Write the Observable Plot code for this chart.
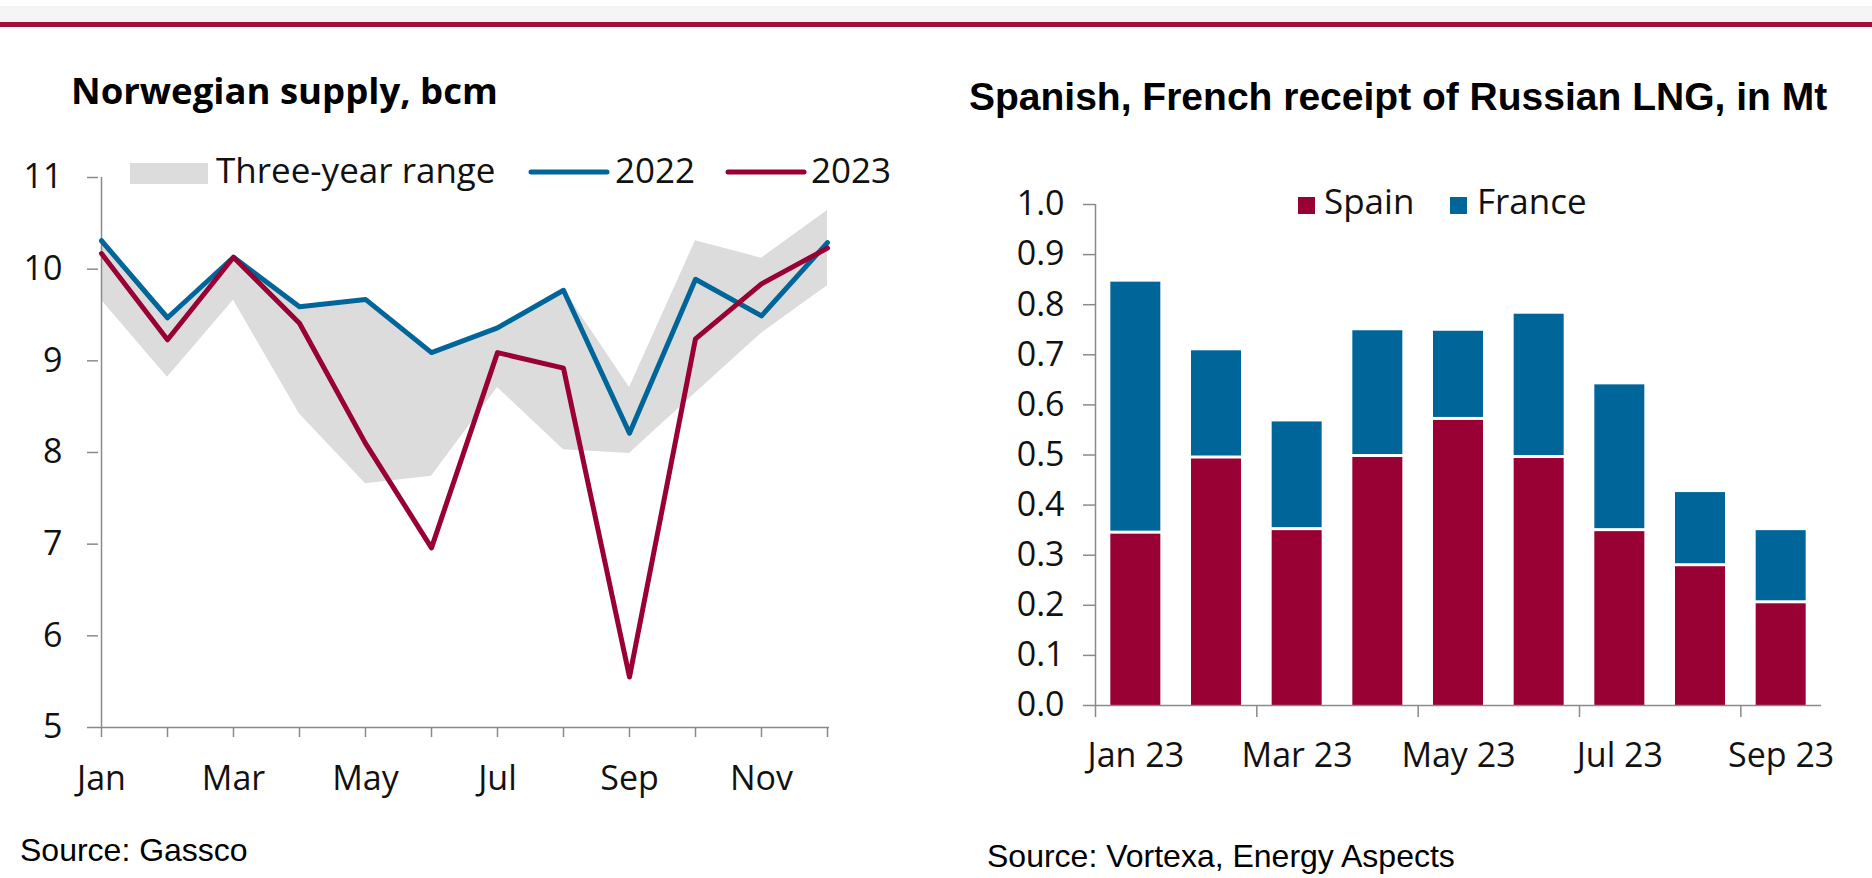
<!DOCTYPE html>
<html>
<head>
<meta charset="utf-8">
<script src="https://cdn.jsdelivr.net/npm/d3@7"></script>
<script src="https://cdn.jsdelivr.net/npm/@observablehq/plot@0.6"></script>
<style>
  html, body { margin: 0; padding: 0; background: #fff; }
  #wrap { position: relative; width: 1872px; height: 878px; overflow: hidden; background: #fff; }
  #wrap > svg, #wrap > figure { position: absolute; top: 0; margin: 0; }
</style>
</head>
<body>
<div id="wrap"></div>
<script>
// ---------- Data: Norwegian supply, bcm ----------
const months = ["Jan","Feb","Mar","Apr","May","Jun","Jul","Aug","Sep","Oct","Nov","Dec"];
const xLabelsLeft = ["Jan","Mar","May","Jul","Sep","Nov"];
const yTicksLeft = [5, 6, 7, 8, 9, 10, 11];
const supply2022 = [10.31, 9.47, 10.13, 9.59, 9.67, 9.09, 9.36, 9.77, 8.21, 9.89, 9.49, 10.29];
const supply2023 = [10.17, 9.23, 10.13, 9.41, 8.10, 6.96, 9.09, 8.92, 5.55, 9.24, 9.84, 10.23];
const rangeHigh  = [10.33, 9.48, 10.15, 9.60, 9.68, 9.10, 9.37, 9.78, 8.71, 10.31, 10.12, 10.64];
const rangeLow   = [9.66, 8.82, 9.66, 8.42, 7.66, 7.74, 8.71, 8.03, 7.99, 8.65, 9.30, 9.82];
const leftSeries = ["Three-year range", "2022", "2023"];

// ---------- Data: Spanish, French receipt of Russian LNG, Mt ----------
const barMonths = ["Jan 23","Feb 23","Mar 23","Apr 23","May 23","Jun 23","Jul 23","Aug 23","Sep 23"];
const spain  = [0.345, 0.495, 0.352, 0.498, 0.572, 0.496, 0.350, 0.280, 0.206];
const france = [0.500, 0.213, 0.214, 0.250, 0.175, 0.285, 0.290, 0.145, 0.143];
const yTicksRight = [0, 0.1, 0.2, 0.3, 0.4, 0.5, 0.6, 0.7, 0.8, 0.9, 1.0];
const rightSeries = ["Spain", "France"];

const titles = ["Norwegian supply, bcm", "Spanish, French receipt of Russian LNG, in Mt"];
const sources = ["Source: Gassco", "Source: Vortexa, Energy Aspects"];

// ---------- Styles ----------
const MAROON = "#990033";
const BLUE = "#00669a";
const BAND = "#dcdcdc";
const AXIS = "#8a8a8a";
const TXT = "#111";

const wrap = document.getElementById("wrap");

// ---------- Left chart ----------
const rows = months.map((m, i) => ({m, a: supply2022[i], b: supply2023[i], lo: rangeLow[i], hi: rangeHigh[i]}));
const left = Plot.plot({
  width: 936, height: 878,
  marginLeft: 98, marginRight: 107, marginTop: 177, marginBottom: 151,
  x: {type: "point", domain: months, padding: 0},
  y: {domain: [5, 11]},
  style: {fontFamily: "'Open Sans', sans-serif", fontSize: "34px", color: TXT, background: "none", overflow: "visible"},
  marks: [
    Plot.areaY(rows, {x: "m", y1: "lo", y2: "hi", fill: BAND}),
    Plot.ruleX([months[0]], {stroke: AXIS, strokeWidth: 1.5}),
    Plot.ruleY([yTicksLeft[0]], {stroke: AXIS, strokeWidth: 1.5}),
    Plot.axisY({ticks: yTicksLeft, tickFormat: d3.format("d"), tickSize: 11, tickPadding: 25, label: null, stroke: AXIS, strokeWidth: 1.5, fill: TXT}),
    Plot.axisX({tickSize: 10, tickPadding: 28, label: null, stroke: AXIS, strokeWidth: 1.5, fill: TXT,
      tickFormat: m => xLabelsLeft.includes(m) ? m : ""}),
    Plot.lineY(rows, {x: "m", y: "a", stroke: BLUE, strokeWidth: 5}),
    Plot.lineY(rows, {x: "m", y: "b", stroke: MAROON, strokeWidth: 5})
  ]
});
left.style.left = "0px";
wrap.appendChild(left);

// ---------- Right chart ----------
const bars = barMonths.map((m, i) => ({m, i, i2: i + 1, s: spain[i], t: spain[i] + france[i]}));
const rightStep = (936 - 159 - 51) / barMonths.length;
const inset = (rightStep - 50) / 2;
const tickIdx = barMonths.map((m, i) => i).filter(i => i % 2 === 0);
const right = Plot.plot({
  width: 936, height: 878,
  marginLeft: 159, marginRight: 51, marginTop: 204, marginBottom: 173,
  x: {domain: [0, barMonths.length]},
  y: {domain: [0, 1]},
  style: {fontFamily: "'Open Sans', sans-serif", fontSize: "34px", color: TXT, background: "none", overflow: "visible"},
  marks: [
    Plot.rectY(bars, {x1: "i", x2: "i2", y1: 0, y2: "s", fill: MAROON, insetLeft: inset, insetRight: inset, insetTop: 1.5}),
    Plot.rectY(bars, {x1: "i", x2: "i2", y1: "s", y2: "t", fill: BLUE, insetLeft: inset, insetRight: inset, insetBottom: 1.5}),
    Plot.ruleX([0], {stroke: AXIS, strokeWidth: 1.5}),
    Plot.ruleY([0], {stroke: AXIS, strokeWidth: 1.5}),
    Plot.axisY({ticks: yTicksRight, tickFormat: d3.format(".1f"), tickSize: 12, tickPadding: 19, label: null, stroke: AXIS, strokeWidth: 1.5, fill: TXT}),
    Plot.axisX({ticks: tickIdx, tickSize: 12, tickFormat: () => "", label: null, stroke: AXIS, strokeWidth: 1.5}),
    Plot.axisX({ticks: tickIdx.map(i => i + 0.5), tickSize: 0, tickPadding: 37, label: null, fill: TXT,
      tickFormat: v => barMonths[Math.floor(v)]})
  ]
});
right.style.left = "936px";
wrap.appendChild(right);

// ---------- Overlay: top rule, titles, legends, sources ----------
const ov = d3.select(wrap).append("svg")
  .attr("width", 1872).attr("height", 878)
  .style("left", "0px").style("pointer-events", "none");
ov.append("rect").attr("x", 0).attr("y", 6).attr("width", 1872).attr("height", 16).attr("fill", "#f5f5f5");
ov.append("rect").attr("x", 0).attr("y", 22).attr("width", 1872).attr("height", 5).attr("fill", "#a3103e");

ov.append("text").attr("x", 71).attr("y", 104)
  .style("font", "bold 36.5px 'Open Sans', sans-serif").attr("fill", "#000").text(titles[0]);
ov.append("text").attr("x", 969).attr("y", 110)
  .style("font", "bold 39px 'Liberation Sans', Arial, sans-serif").attr("fill", "#000").text(titles[1]);

// left legend
const lg = ov.append("g").style("font", "35px 'Open Sans', sans-serif").attr("fill", TXT);
lg.append("rect").attr("x", 130).attr("y", 163).attr("width", 78).attr("height", 21).attr("fill", BAND);
lg.append("text").attr("x", 216).attr("y", 183).text(leftSeries[0]);
lg.append("line").attr("x1", 531).attr("x2", 607).attr("y1", 172).attr("y2", 172)
  .attr("stroke", BLUE).attr("stroke-width", 5).attr("stroke-linecap", "round");
lg.append("text").attr("x", 615).attr("y", 183).text(leftSeries[1]);
lg.append("line").attr("x1", 728).attr("x2", 804).attr("y1", 172).attr("y2", 172)
  .attr("stroke", MAROON).attr("stroke-width", 5).attr("stroke-linecap", "round");
lg.append("text").attr("x", 811).attr("y", 183).text(leftSeries[2]);

// right legend
const rg = ov.append("g").style("font", "35px 'Open Sans', sans-serif").attr("fill", TXT);
rg.append("rect").attr("x", 1298).attr("y", 197).attr("width", 17).attr("height", 17).attr("fill", MAROON);
rg.append("text").attr("x", 1324).attr("y", 214).text(rightSeries[0]);
rg.append("rect").attr("x", 1450).attr("y", 197).attr("width", 17).attr("height", 17).attr("fill", BLUE);
rg.append("text").attr("x", 1477).attr("y", 214).text(rightSeries[1]);

// sources
ov.append("text").attr("x", 20).attr("y", 861)
  .style("font", "32px 'Liberation Sans', Arial, sans-serif").attr("fill", "#000").text(sources[0]);
ov.append("text").attr("x", 987).attr("y", 867)
  .style("font", "32px 'Liberation Sans', Arial, sans-serif").attr("fill", "#000").text(sources[1]);
</script>
</body>
</html>
